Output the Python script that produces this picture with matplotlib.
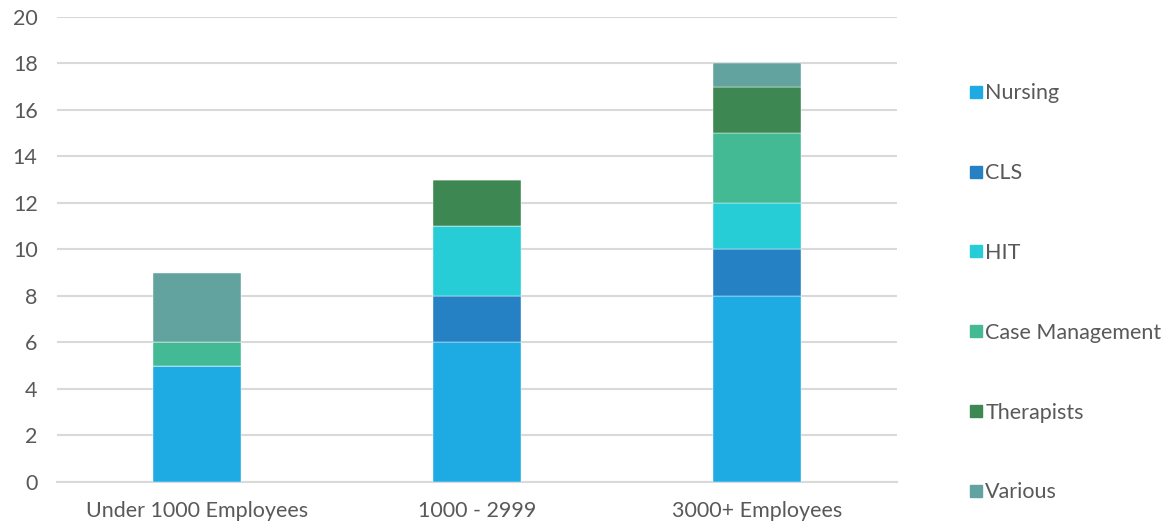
import matplotlib.pyplot as plt
import numpy as np
from matplotlib.lines import Line2D

categories = ['Under 1000 Employees', '1000 - 2999', '3000+ Employees']
series = ['Nursing', 'CLS', 'HIT', 'Case Management', 'Therapists', 'Various']
nursing = [5, 6, 8]
cls = [0, 2, 2]
hit = [0, 3, 2]
case_mgmt = [1, 0, 3]
therapists = [0, 2, 2]
various = [3, 0, 1]
colors = ['#1eaae2', '#2581c4', '#27cdd6', '#43b994', '#3d8752', '#62a39f']

plt.rcParams['font.family'] = ['Lato', 'DejaVu Sans']
text_color = '#595959'

fig = plt.figure(figsize=(11.71, 5.23), dpi=100)
ax = fig.add_axes([0.0487, 0.0784, 0.7173, 0.8891])

x = np.arange(len(categories))
bottom = np.zeros(len(categories))
handles = []
for name, vals, col in zip(series, [nursing, cls, hit, case_mgmt, therapists, various], colors):
    vals = np.array(vals, dtype=float)
    ax.bar(x, vals, bottom=bottom, width=0.314, color=col, edgecolor='white',
           linewidth=0.3, zorder=3)
    bottom += vals
    handles.append(Line2D([], [], marker='s', linestyle='none', markersize=9,
                          markerfacecolor=col, markeredgecolor=col, label=name))

ax.set_xlim(-0.5, 2.5)
ax.set_ylim(0, 20)
ax.set_yticks(range(0, 21, 2))
ax.set_xticks(x)
ax.set_xticklabels(categories)
ax.yaxis.grid(True, color='#d9d9d9', linewidth=1.5, zorder=0)
for s in ['top', 'right', 'left']:
    ax.spines[s].set_visible(False)
ax.spines['bottom'].set_color('#d9d9d9')
ax.spines['bottom'].set_linewidth(1.5)
ax.tick_params(axis='both', length=0, labelsize=15.5, colors=text_color)
ax.tick_params(axis='y', pad=14)
ax.tick_params(axis='x', pad=14)

fig.legend(handles=handles, loc='center left', bbox_to_anchor=(0.811, 0.44),
           frameon=False, fontsize=15.5, labelcolor=text_color, labelspacing=2.78,
           handlelength=0.6, handletextpad=0.15)

fig.savefig('out.png', dpi=100)
